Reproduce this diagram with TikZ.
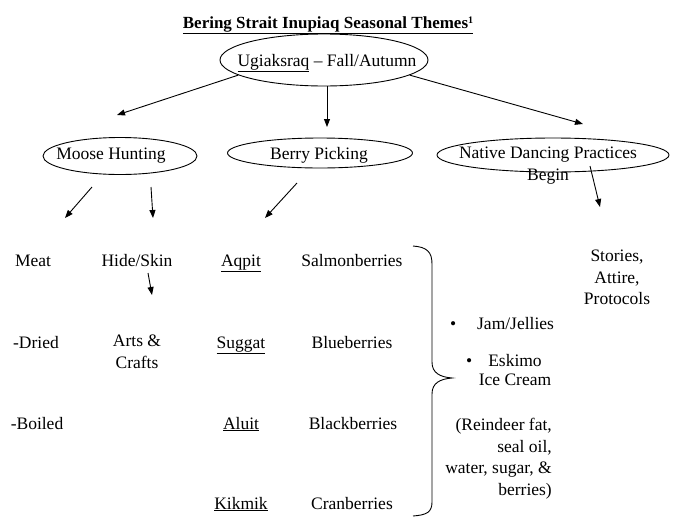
\documentclass[tikz,border=0pt]{standalone}
\usepackage{fontspec}
\setmainfont{Liberation Serif}
\usetikzlibrary{shapes.geometric,arrows.meta}
\newcommand\fs{\fontsize{17.5}{21.5}\selectfont}
\tikzset{
  ell/.style={draw, ellipse, inner sep=0pt, line width=0.9pt},
  txt/.style={inner sep=0pt, anchor=base, font=\fs},
  mtxt/.style={inner sep=0pt, anchor=north, font=\fs},
  arr/.style={line width=0.9pt, -{Triangle[length=8pt,width=6pt]}},
}
\begin{document}
\begin{tikzpicture}[x=1pt,y=-1pt]
\useasboundingbox (0,0) rectangle (678,517);
% title
\node[inner sep=0pt, anchor=base, font=\fontsize{17}{20}\selectfont] (title) at (328,28)
  {\underline{\textbf{Bering Strait Inupiaq Seasonal Themes{\fontsize{10}{10}\selectfont\raisebox{5pt}{1}}}}};
% ellipses
\node[ell, minimum width=208pt, minimum height=52pt] (top) at (324,60) {};
\node[txt] (toptxt) at (327,66) {\underline{Ugiaksraq} -- Fall/Autumn};
\node[ell, minimum width=154pt, minimum height=37pt] (moose) at (120,156) {};
\node[txt] (moosetxt) at (111,159) {Moose Hunting};
\node[ell, minimum width=185pt, minimum height=30pt] (berry) at (320,153) {};
\node[txt] (berrytxt) at (319,159) {Berry Picking};
\node[ell, minimum width=232pt, minimum height=34pt] (dance) at (553,155) {};
\node[mtxt, align=center] (dancetxt) at (548,147) {Native Dancing Practices\\Begin};
% arrows from top
\coordinate (tl) at (117,115);
\coordinate (tm) at (327,127);
\coordinate (tr) at (583,124);
\draw[arr] (top.190) -- (tl);
\draw[arr] (top.south -| tm) -- (tm);
\draw[arr] (top.350) -- (tr);
% second-level arrows
\coordinate (m1s) at (92,187);  \coordinate (m1e) at (65,218);
\coordinate (m2s) at (151,187); \coordinate (m2e) at (153,218);
\coordinate (b1s) at (297,183); \coordinate (b1e) at (265,218);
\coordinate (d1s) at (590,166); \coordinate (d1e) at (600,207);
\draw[arr] (m1s) -- (m1e);
\draw[arr] (m2s) -- (m2e);
\draw[arr] (b1s) -- (b1e);
\draw[arr] (d1s) -- (d1e);
% columns
\node[txt] (meat) at (33,266) {Meat};
\node[txt] (dried) at (36,348) {-Dried};
\node[txt] (boiled) at (37,429) {-Boiled};
\node[txt] (hide) at (137,266) {Hide/Skin};
\node[mtxt, align=center] (arts) at (137,335) {Arts \&\\Crafts};
\coordinate (h1s) at (148,273);
\coordinate (h1e) at (152,295);
\draw[arr] (h1s) -- (h1e);
\node[txt] (aqpit) at (241,266) {\underline{Aqpit}};
\node[txt] (suggat) at (241,348) {\underline{Suggat}};
\node[txt] (aluit) at (241,429) {\underline{Aluit}};
\node[txt] (kikmik) at (241,509) {\underline{Kikmik}};
\node[txt] (salmon) at (352,266) {Salmonberries};
\node[txt] (blue) at (352,348) {Blueberries};
\node[txt] (black) at (353,429) {Blackberries};
\node[txt] (cran) at (352,509) {Cranberries};
% brace
\draw[line width=0.9pt] (413,246) .. controls (427,247) and (432,252) .. (432,264)
  -- (432,362) .. controls (432,373) and (440,377) .. (452,378)
  .. controls (440,379) and (432,383) .. (432,394)
  -- (432,502) .. controls (432,512) and (427,515) .. (413,516);
% right column
\node[txt, anchor=base west] (jam) at (450,329) {\makebox[27pt][l]{\textbullet}Jam/Jellies};
\node[mtxt, align=center, font=\fontsize{17.5}{19.5}\selectfont] (eskimo) at (515,354)
  {\makebox[0pt][r]{\textbullet\hspace{16pt}}Eskimo\\Ice Cream};
\node[mtxt, align=right, anchor=north east] (rein) at (552,418)
  {(Reindeer fat,\\seal oil,\\water, sugar, \&\\berries)};
\node[mtxt, align=center] (stories) at (617,250) {Stories,\\Attire,\\Protocols};
\end{tikzpicture}
\end{document}
